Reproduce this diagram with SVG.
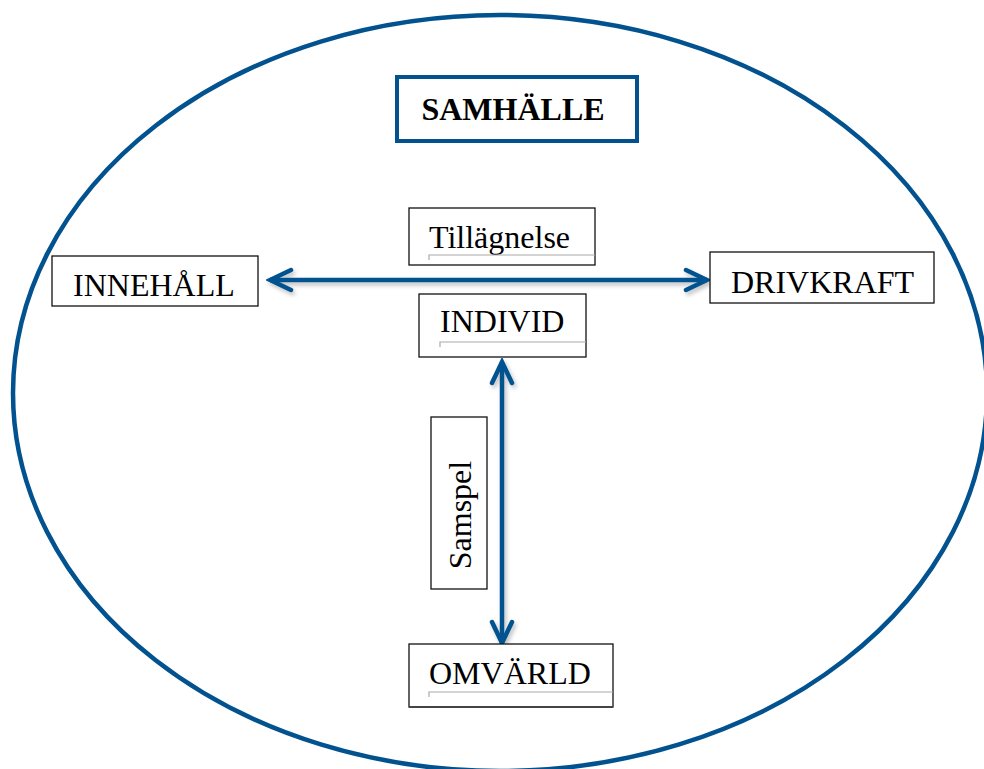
<svg xmlns="http://www.w3.org/2000/svg" width="984" height="769" viewBox="0 0 984 769">
<style>
.box{fill:#fff;stroke:#111;stroke-width:1.3}
.t{font-family:"Liberation Serif","Times New Roman",serif;font-size:32px;fill:#000}
.b{font-weight:bold}
.ul{stroke:#aaa;stroke-width:1.2;fill:none}
.con{stroke:#02528f;stroke-width:4.5;fill:none}
.blue{fill:none;stroke:#02528f}
</style>
<defs>
<marker id="ah" viewBox="-26 -14 30 28" refX="0" refY="0" markerWidth="30" markerHeight="28" markerUnits="userSpaceOnUse" orient="auto-start-reverse">
<path d="M -21 -10 L 0 0 L -21 10" fill="none" stroke="#02528f" stroke-width="4.5" stroke-linecap="round" stroke-linejoin="miter"/>
</marker>
<filter id="sh" x="-10%" y="-10%" width="120%" height="120%">
<feDropShadow dx="2" dy="3" stdDeviation="2" flood-color="#000" flood-opacity="0.25"/>
</filter>
</defs>
<ellipse cx="500" cy="393" rx="487" ry="378" class="blue" stroke-width="4.5"/>
<g id="samhalle">
<rect x="397" y="77" width="240" height="64" class="blue" stroke-width="4" fill="#fff"/>
<text x="513" y="120" text-anchor="middle" class="t b">SAMHÄLLE</text>
</g>
<g id="connectors" filter="url(#sh)">
<line x1="270" y1="280" x2="707" y2="280" class="con" marker-start="url(#ah)" marker-end="url(#ah)"/>
<line x1="502" y1="362" x2="502" y2="643" class="con" marker-start="url(#ah)" marker-end="url(#ah)"/>
</g>
<g id="tillagnelse">
<rect x="409" y="208" width="186" height="57" class="box"/>
<text x="429" y="248" class="t">Tillägnelse</text>
<path d="M429 260 V255 H595" class="ul"/>
</g>
<g id="innehall">
<rect x="52" y="256" width="206" height="50" class="box"/>
<text x="73" y="296" class="t">INNEHÅLL</text>
</g>
<g id="drivkraft">
<rect x="710" y="252" width="224" height="51" class="box"/>
<text x="731" y="293" class="t">DRIVKRAFT</text>
</g>
<g id="individ">
<rect x="419" y="294" width="167" height="63" class="box"/>
<text x="440" y="332" class="t">INDIVID</text>
<path d="M440 347 V342 H586" class="ul"/>
</g>
<g id="samspel">
<rect x="431" y="417" width="56" height="172" class="box"/>
<text transform="translate(471 515) rotate(-90)" text-anchor="middle" class="t">Samspel</text>
</g>
<g id="omvarld">
<rect x="409" y="644" width="204" height="63" class="box"/>
<line x1="409" y1="707" x2="613" y2="707" stroke="#444" stroke-width="2"/>
<text x="429" y="684" class="t">OMVÄRLD</text>
<path d="M429 697 V692 H613" class="ul"/>
</g>
</svg>
